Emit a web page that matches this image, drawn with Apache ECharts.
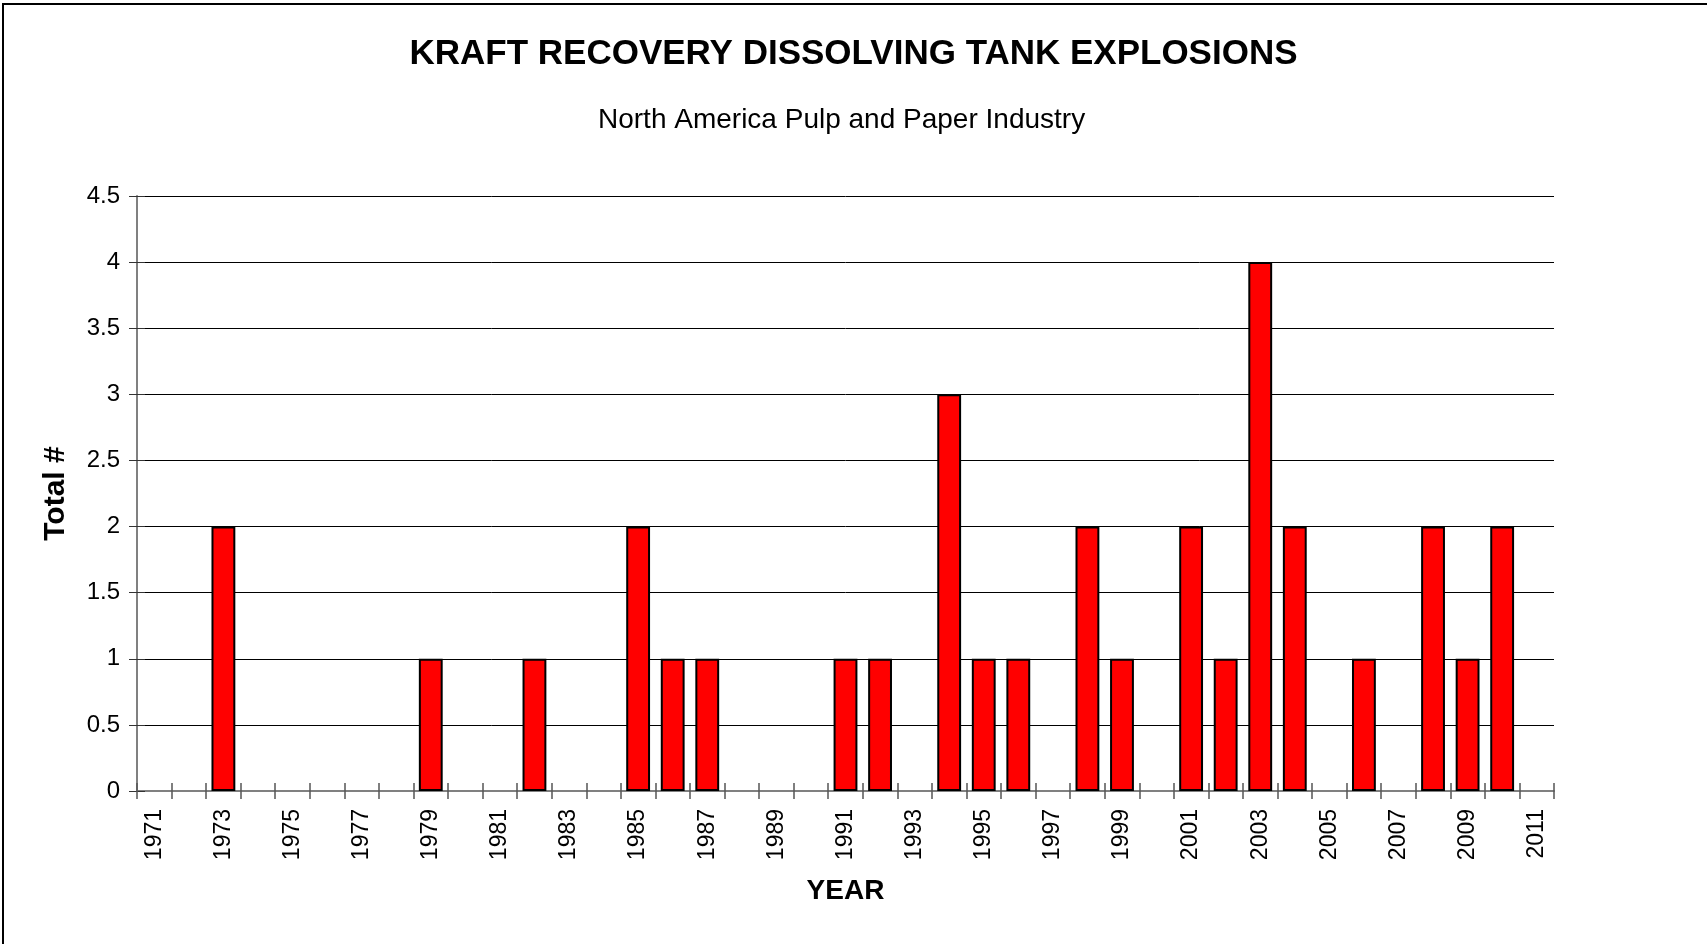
<!DOCTYPE html>
<html>
<head>
<meta charset="utf-8">
<script src="https://cdn.jsdelivr.net/npm/echarts@6/dist/echarts.min.js"></script>
<style>
html,body{margin:0;padding:0;background:#fff;}
#chart{width:1707px;height:944px;}
</style>
</head>
<body>
<div id="chart"></div>
<script>
var years = [];
for (var y = 1971; y <= 2011; y++) years.push(String(y));
var explosions = [
  0, 0, 2, 0, 0, 0, 0, 0, 1, 0,   // 1971-1980
  0, 1, 0, 0, 2, 1, 1, 0, 0, 0,   // 1981-1990
  1, 1, 0, 3, 1, 1, 0, 2, 1, 0,   // 1991-2000
  2, 1, 4, 2, 0, 1, 0, 2, 1, 2,   // 2001-2010
  0                               // 2011
];
var titleText = 'KRAFT RECOVERY DISSOLVING TANK EXPLOSIONS';
var subtitleText = 'North America Pulp and Paper Industry';
var yName = 'Total #';
var xName = 'YEAR';

var FONT = '"Liberation Sans", Arial, sans-serif';
var chart = echarts.init(document.getElementById('chart'), null, {renderer: 'canvas'});
chart.setOption({
  animation: false,
  backgroundColor: '#fff',
  graphic: [{
    type: 'rect', silent: true, z: -10,
    shape: {x: 3, y: 4, width: 1800, height: 1000},
    style: {fill: 'none', stroke: '#000', lineWidth: 2}
  }],
  title: [{
    text: titleText, left: 'center', top: 37, padding: 0,
    textStyle: {fontFamily: FONT, fontSize: 35, fontWeight: 'bold', color: '#000', lineHeight: 35}
  }, {
    text: subtitleText, left: 598, top: 106, padding: 0,
    textStyle: {fontFamily: FONT, fontSize: 28, fontWeight: 'normal', color: '#000', lineHeight: 28}
  }],
  grid: {left: 137, right: 153, top: 196, bottom: 153, containLabel: false},
  xAxis: [{
    type: 'category', data: years, position: 'bottom',
    name: xName, nameLocation: 'middle', nameGap: 86,
    nameTextStyle: {fontFamily: FONT, fontSize: 28, fontWeight: 'bold', color: '#000'},
    axisLine: {show: true, lineStyle: {color: '#808080', width: 2}},
    axisTick: {show: true, interval: 0, alignWithLabel: false, length: 8, inside: false, lineStyle: {color: '#555', width: 1.5}},
    axisLabel: {interval: 1, rotate: 90, margin: 18, fontFamily: FONT, fontSize: 23, color: '#000'},
    splitLine: {show: false}
  }, {
    type: 'category', data: years, position: 'bottom',
    axisLine: {show: false},
    axisTick: {show: true, interval: 0, alignWithLabel: false, length: 8, inside: true, lineStyle: {color: '#555', width: 1.5}},
    axisLabel: {show: false},
    splitLine: {show: false}
  }],
  yAxis: [{
    type: 'value', min: 0, max: 4.5, interval: 0.5,
    name: yName, nameLocation: 'middle', nameGap: 66,
    nameTextStyle: {fontFamily: FONT, fontSize: 30, fontWeight: 'bold', color: '#000'},
    axisLine: {show: true, lineStyle: {color: '#808080', width: 2}},
    axisTick: {show: true, length: 8, inside: false, lineStyle: {color: '#333', width: 1}},
    axisLabel: {margin: 17, fontFamily: FONT, fontSize: 24, color: '#000'},
    splitLine: {show: true, lineStyle: {color: '#000', width: 1}}
  }, {
    type: 'value', min: 0, max: 4.5, interval: 0.5, position: 'left',
    axisLine: {show: false},
    axisTick: {show: true, length: 8, inside: true, lineStyle: {color: '#333', width: 1}},
    axisLabel: {show: false},
    splitLine: {show: false}
  }],
  series: [{
    type: 'bar', xAxisIndex: 0, yAxisIndex: 0,
    data: explosions.map(function (v) { return v === 0 ? '-' : v; }),
    barWidth: '69%',
    itemStyle: {color: '#FF0000', borderColor: '#000', borderWidth: 2},
    z: 3
  }]
});
</script>
</body>
</html>
